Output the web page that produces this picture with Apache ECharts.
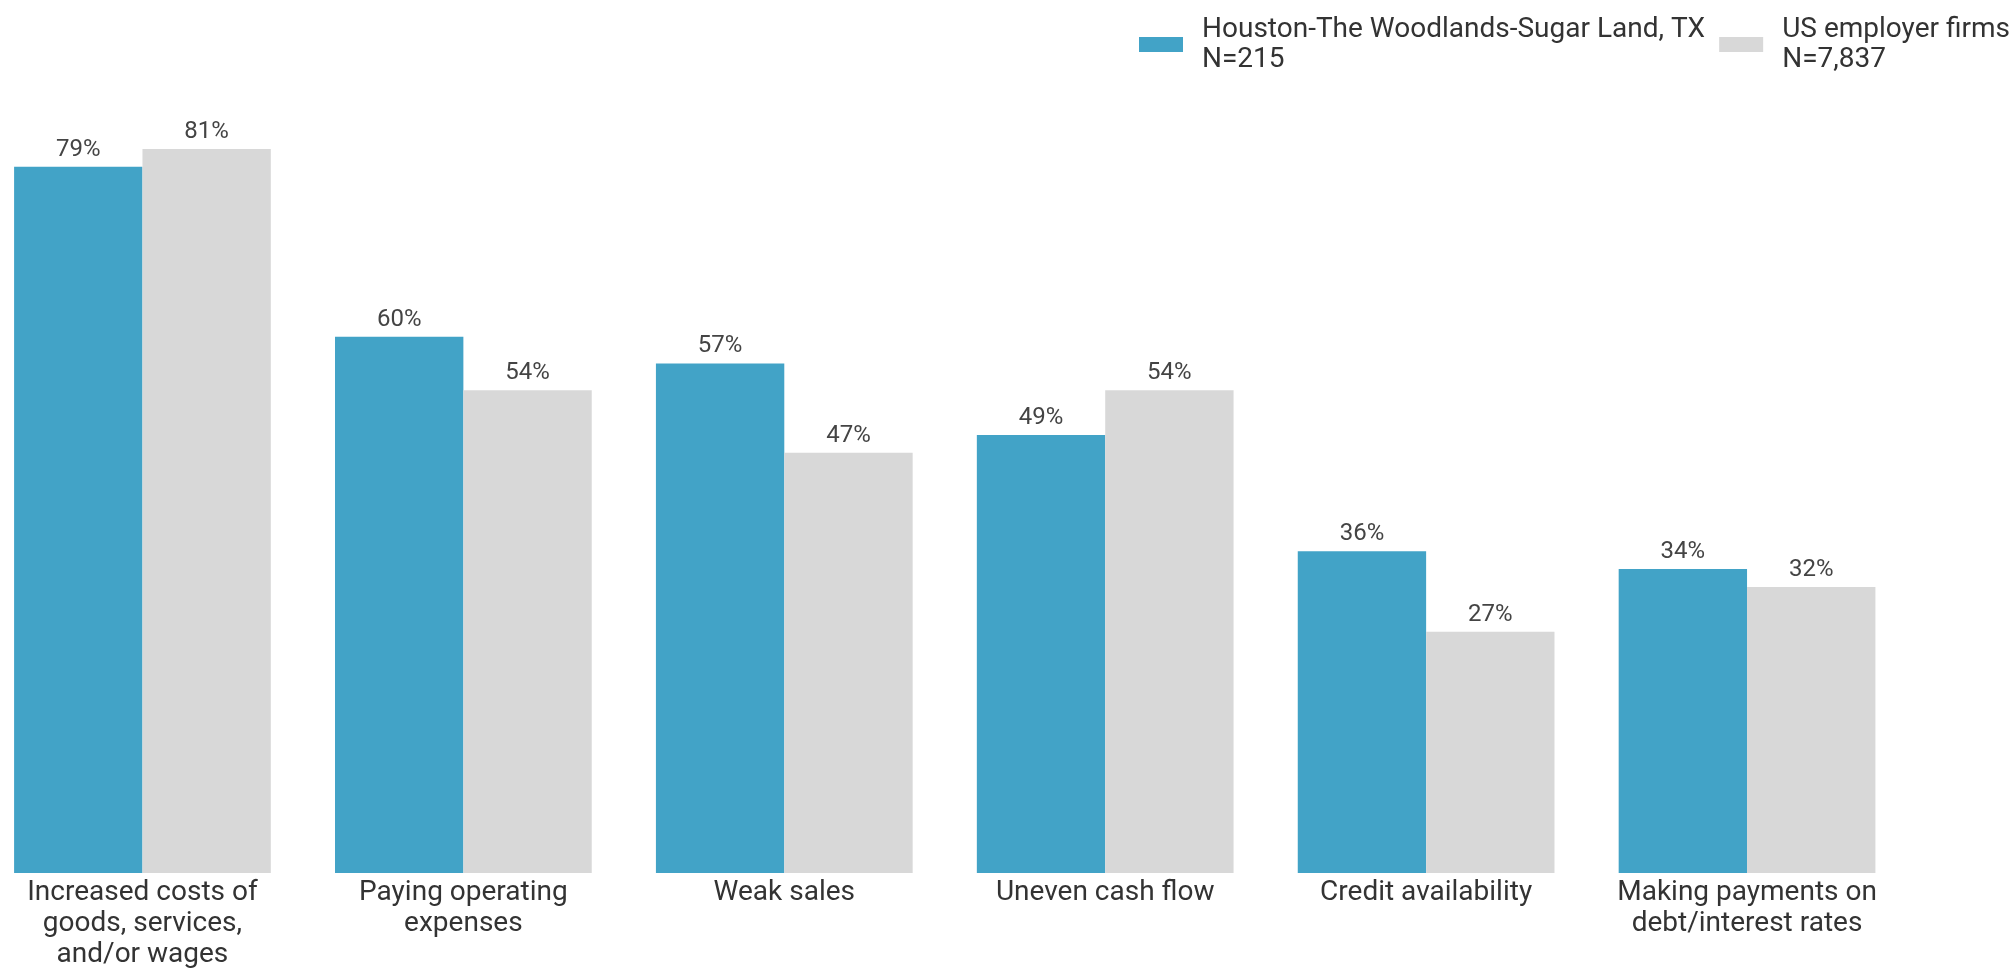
<!DOCTYPE html>
<html>
<head>
<meta charset="utf-8">
<script src="https://cdn.jsdelivr.net/npm/echarts@6/dist/echarts.min.js"></script>
<style>
html,body{margin:0;padding:0;background:#fff;overflow:hidden;}
#chart{position:absolute;left:-18px;top:0;width:2031px;height:970px;}
</style>
</head>
<body>
<div id="chart"></div>
<script>
const categories = [
  "Increased costs of\ngoods, services,\nand/or wages",
  "Paying operating\nexpenses",
  "Weak sales",
  "Uneven cash flow",
  "Credit availability",
  "Making payments on\ndebt/interest rates"
];
const seriesNames = ["Houston-The Woodlands-Sugar Land, TX", "US employer firms"];
const sampleSizes = ["N=215", "N=7,837"];
const houstonValues = [79, 60, 57, 49, 36, 34];
const usValues = [81, 54, 47, 54, 27, 32];
const colors = ["#42A3C7", "#D8D8D8"];

const chart = echarts.init(document.getElementById('chart'));
const labelStyle = {
  show: true,
  position: 'top',
  distance: 5,
  formatter: '{c}%',
  fontFamily: 'Roboto',
  fontSize: 24,
  color: '#444'
};
chart.setOption({
  animation: false,
  backgroundColor: '#fff',
  textStyle: { fontFamily: 'Roboto' },
  legend: {
    left: 1157,
    top: 8,
    width: 1200,
    padding: 0,
    itemWidth: 44,
    itemHeight: 15,
    itemGap: 14,
    icon: 'rect',
    data: seriesNames,
    formatter: function (name) {
      return name + '\n' + sampleSizes[seriesNames.indexOf(name)];
    },
    textStyle: {
      fontFamily: 'Roboto',
      fontSize: 28,
      lineHeight: 30,
      color: '#333',
      padding: [0, 0, 13, 14]
    }
  },
  grid: { left: 0, right: 105.5, top: 68.5, bottom: 96 },
  xAxis: {
    type: 'category',
    data: categories,
    axisLine: { show: false },
    axisTick: { show: false },
    axisLabel: {
      interval: 0,
      margin: 4,
      fontFamily: 'Roboto',
      fontSize: 28,
      lineHeight: 31,
      color: '#333'
    }
  },
  yAxis: {
    type: 'value',
    min: 0,
    max: 90,
    show: false,
    splitLine: { show: false }
  },
  series: [
    {
      name: seriesNames[0],
      type: 'bar',
      data: houstonValues,
      barGap: 0,
      barCategoryGap: '20%',
      itemStyle: { color: colors[0] },
      label: labelStyle
    },
    {
      name: seriesNames[1],
      type: 'bar',
      data: usValues,
      barGap: 0,
      barCategoryGap: '20%',
      itemStyle: { color: colors[1] },
      label: labelStyle
    }
  ]
});
</script>
</body>
</html>
